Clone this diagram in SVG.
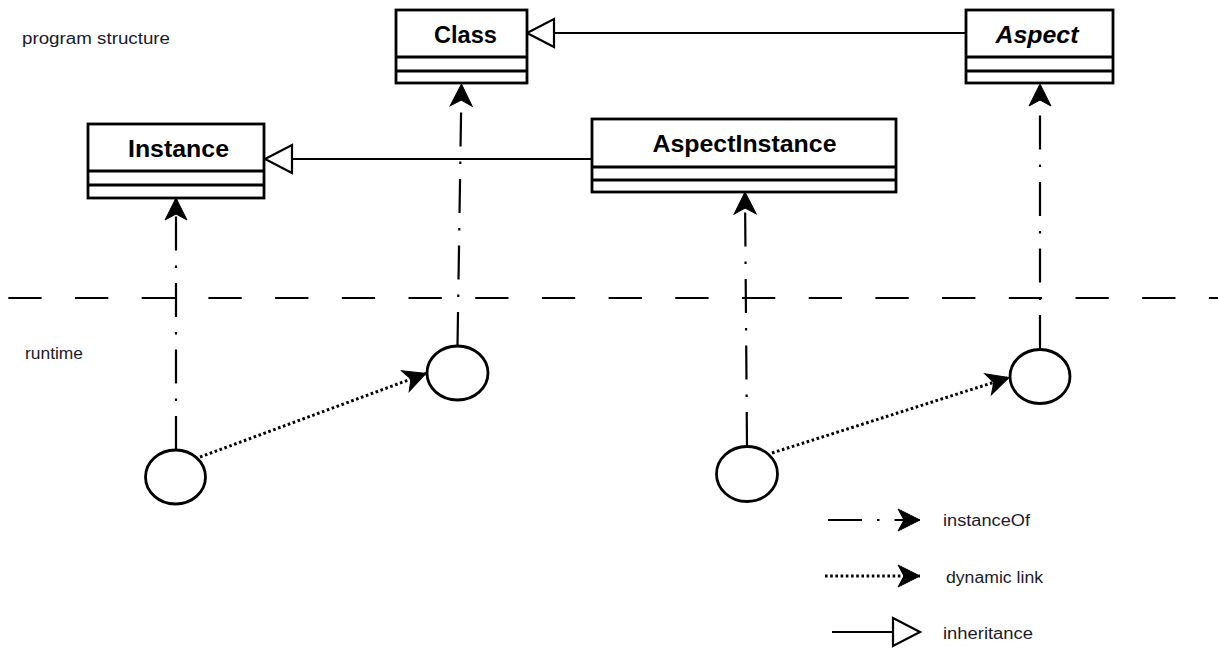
<svg xmlns="http://www.w3.org/2000/svg" width="1218" height="648" viewBox="0 0 1218 648">
<style>
.box{fill:#fff;stroke:#000;stroke-width:2.8}
.div{stroke:#000;stroke-width:2.8}
.title{font-family:"Liberation Sans",Arial,sans-serif;font-weight:bold;font-size:23px;fill:#000;text-anchor:middle}
.lbl{font-family:"Liberation Sans",Arial,sans-serif;font-size:16px;fill:#1a1a2a}
.obj{fill:#fff;stroke:#000;stroke-width:2.8}
.inst{fill:none;stroke:#000;stroke-width:2.2;stroke-dasharray:34 15 2.5 15}
.dyn{fill:none;stroke:#000;stroke-width:3;stroke-dasharray:2.6 2.6}
.inh{fill:none;stroke:#000;stroke-width:2.2}
</style>
<defs>
<marker id="arr" markerUnits="userSpaceOnUse" markerWidth="24" markerHeight="24" refX="22" refY="11" orient="auto" overflow="visible">
<path d="M0,0 L22,11 L0,22 L6,11 Z" fill="#000" stroke="#000" stroke-width="1"/>
</marker>
<marker id="tri" markerUnits="userSpaceOnUse" markerWidth="30" markerHeight="30" refX="27" refY="14" orient="auto" overflow="visible">
<path d="M0,0 L27,14 L0,28 Z" fill="#fff" stroke="#000" stroke-width="2.2"/>
</marker>
</defs>
<rect width="1218" height="648" fill="#fff"/>

<text class="lbl" x="22" y="44" textLength="148" lengthAdjust="spacingAndGlyphs">program structure</text>
<text class="lbl" x="25" y="359" textLength="58" lengthAdjust="spacingAndGlyphs">runtime</text>

<line x1="8.3" y1="298" x2="1218" y2="298" stroke="#000" stroke-width="2.2" stroke-dasharray="33.3 33.4"/>

<g id="connectors">
<line class="inh" x1="966" y1="33" x2="527" y2="33" marker-end="url(#tri)"/>
<line class="inh" x1="592" y1="159" x2="265" y2="159" marker-end="url(#tri)"/>
<line class="inst" x1="176" y1="450" x2="176" y2="198" marker-end="url(#arr)"/>
<line class="inst" x1="457.5" y1="346" x2="461.5" y2="84" marker-end="url(#arr)"/>
<line class="inst" x1="747" y1="446" x2="745" y2="192" marker-end="url(#arr)"/>
<line class="inst" x1="1040" y1="349" x2="1040" y2="84" marker-end="url(#arr)"/>
<line class="dyn" x1="200" y1="457" x2="426" y2="373.5" marker-end="url(#arr)"/>
<line class="dyn" x1="772" y1="453" x2="1009" y2="377.5" marker-end="url(#arr)"/>
</g>

<g id="Class">
<rect class="box" x="396" y="10" width="131" height="73"/>
<line class="div" x1="396" y1="57" x2="527" y2="57"/>
<line class="div" x1="396" y1="71" x2="527" y2="71"/>
<text class="title" x="465.5" y="43" textLength="63" lengthAdjust="spacingAndGlyphs">Class</text>
</g>
<g id="Aspect">
<rect class="box" x="966" y="10" width="147" height="73"/>
<line class="div" x1="966" y1="57" x2="1113" y2="57"/>
<line class="div" x1="966" y1="71" x2="1113" y2="71"/>
<text class="title" x="1037" y="43" font-style="italic" textLength="83" lengthAdjust="spacingAndGlyphs">Aspect</text>
</g>
<g id="Instance">
<rect class="box" x="88" y="124" width="176" height="74"/>
<line class="div" x1="88" y1="171" x2="264" y2="171"/>
<line class="div" x1="88" y1="185" x2="264" y2="185"/>
<text class="title" x="178.5" y="157" textLength="101" lengthAdjust="spacingAndGlyphs">Instance</text>
</g>
<g id="AspectInstance">
<rect class="box" x="592" y="119" width="304" height="73"/>
<line class="div" x1="592" y1="167" x2="896" y2="167"/>
<line class="div" x1="592" y1="180" x2="896" y2="180"/>
<text class="title" x="744.5" y="152" textLength="184" lengthAdjust="spacingAndGlyphs">AspectInstance</text>
</g>

<g id="obj-instance"><ellipse class="obj" cx="175.5" cy="477" rx="30" ry="27"/></g>
<g id="obj-class"><ellipse class="obj" cx="457.5" cy="373" rx="30.5" ry="27"/></g>
<g id="obj-aspectinstance"><ellipse class="obj" cx="747" cy="474" rx="30.5" ry="27.5"/></g>
<g id="obj-aspect"><ellipse class="obj" cx="1040" cy="376.5" rx="30" ry="27"/></g>

<g id="legend">
<line class="inst" x1="828" y1="520" x2="920" y2="520" marker-end="url(#arr)"/>
<text class="lbl" x="943" y="526" textLength="87" lengthAdjust="spacingAndGlyphs">instanceOf</text>
<line class="dyn" x1="825" y1="576" x2="920" y2="576" marker-end="url(#arr)"/>
<text class="lbl" x="946" y="583" textLength="97" lengthAdjust="spacingAndGlyphs">dynamic link</text>
<line class="inh" x1="832" y1="632" x2="920" y2="632" marker-end="url(#tri)"/>
<text class="lbl" x="943" y="639" textLength="90" lengthAdjust="spacingAndGlyphs">inheritance</text>
</g>
</svg>
